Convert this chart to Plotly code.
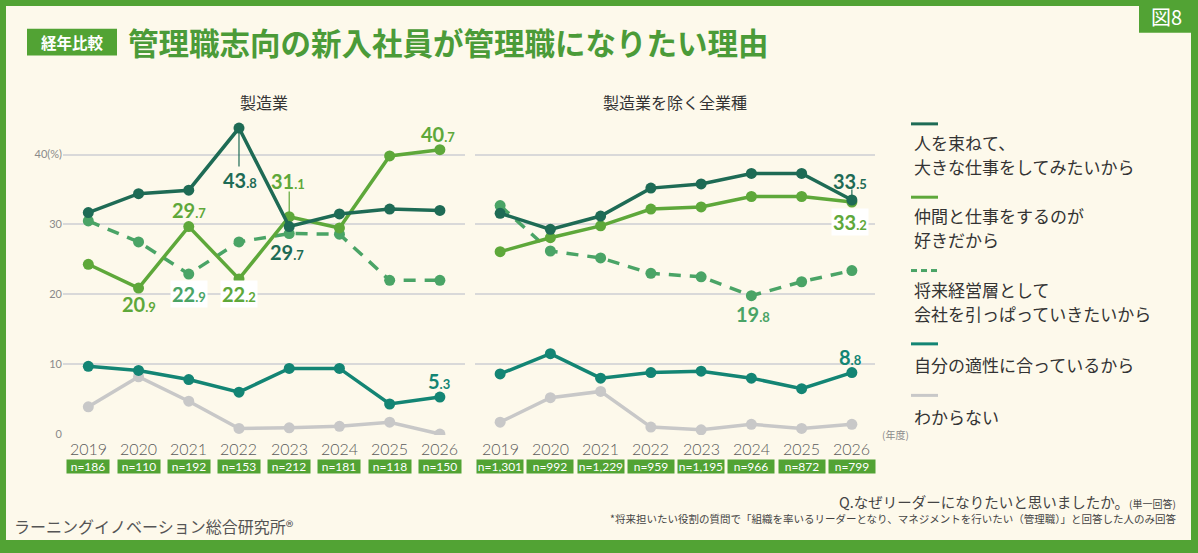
import plotly.graph_objects as go

W, H = 1198, 553
def px(x): return x / W
def py(y): return 1 - y / H

years = ["2019", "2020", "2021", "2022", "2023", "2024", "2025", "2026"]
n_mfg = ["n=186", "n=110", "n=192", "n=153", "n=212", "n=181", "n=118", "n=150"]
n_other = ["n=1,301", "n=992", "n=1,229", "n=959", "n=1,195", "n=966", "n=872", "n=799"]

series_names = [
    "人を束ねて、<br>大きな仕事をしてみたいから",
    "仲間と仕事をするのが<br>好きだから",
    "将来経営層として<br>会社を引っぱっていきたいから",
    "自分の適性に合っているから",
    "わからない",
]

# 製造業
mfg_lead = [31.7, 34.4, 34.9, 43.8, 29.7, 31.5, 32.2, 32.0]
mfg_colleague = [24.3, 20.9, 29.7, 22.2, 31.1, 29.5, 39.8, 40.7]
mfg_exec = [30.5, 27.5, 22.9, 27.5, 28.7, 28.6, 22.0, 22.0]
mfg_fit = [9.7, 9.1, 7.8, 6.0, 9.4, 9.4, 4.3, 5.3]
mfg_unknown = [3.9, 8.2, 4.7, 0.8, 0.9, 1.1, 1.7, 0.0]

# 製造業を除く全業種
oth_lead = [31.6, 29.3, 31.2, 35.2, 35.8, 37.3, 37.3, 33.5]
oth_colleague = [26.1, 28.1, 29.8, 32.2, 32.5, 34.0, 34.0, 33.2]
oth_exec = [32.7, 26.2, 25.2, 23.0, 22.5, 19.8, 21.8, 23.4]
oth_fit = [8.6, 11.5, 8.0, 8.8, 9.0, 8.0, 6.5, 8.8]
oth_unknown = [1.7, 5.2, 6.1, 1.0, 0.6, 1.4, 0.8, 1.4]

C_DARK = "#1E6B55"
C_GREEN = "#5EA83A"
C_DASH = "#4AA466"
C_TEAL = "#138574"
C_GRAY = "#C8C8C8"
C_BORDER = "#52A334"
C_TITLE = "#4B9B38"
CREAM = "#FDF9EB"

colors = [C_DARK, C_GREEN, C_DASH, C_TEAL, C_GRAY]
dashes = ["solid", "solid", "12px,9px", "solid", "solid"]

fig = go.Figure()
xs = list(range(len(years)))
panels = [
    ("x", "y", [mfg_lead, mfg_colleague, mfg_exec, mfg_fit, mfg_unknown]),
    ("x2", "y2", [oth_lead, oth_colleague, oth_exec, oth_fit, oth_unknown]),
]
draw_order = [4, 3, 2, 1, 0]
for xa, ya, data in panels:
    for k in draw_order:
        fig.add_trace(go.Scatter(
            x=xs, y=data[k], mode="lines+markers", xaxis=xa, yaxis=ya,
            line=dict(color=colors[k], width=3.5, dash=dashes[k]),
            marker=dict(color=colors[k], size=11),
            name=series_names[k], showlegend=False, hoverinfo="skip",
        ))

ydom = [py(439), py(122)]
yr = [-0.14, 44.82]
grid = "#D9D9D9"
fig.update_layout(
    width=W, height=H, margin=dict(l=0, r=0, t=0, b=0),
    paper_bgcolor=C_BORDER, plot_bgcolor="#FFFFFF",
    xaxis=dict(domain=[px(63), px(465)], range=[-0.504, 7.5], showgrid=False,
               showticklabels=False, zeroline=False, fixedrange=True),
    yaxis=dict(domain=ydom, range=yr, tickvals=[0, 10, 20, 30, 40],
               ticktext=["0", "10", "20", "30", "40(%)"], gridcolor=grid, gridwidth=1.5,
               zeroline=False, tickfont=dict(size=11, color="#8A8A8A", family="Lato"),
               fixedrange=True),
    xaxis2=dict(domain=[px(475), px(875)], range=[-0.5, 7.46], showgrid=False,
                showticklabels=False, zeroline=False, anchor="y2", fixedrange=True),
    yaxis2=dict(domain=ydom, range=yr, tickvals=[0, 10, 20, 30, 40], showticklabels=False,
                gridcolor=grid, gridwidth=1.5, zeroline=False, anchor="x2", fixedrange=True),
    font=dict(family="Noto Sans CJK JP"),
)

shapes = []
shapes.append(dict(type="rect", xref="paper", yref="paper", x0=px(6), x1=px(1191), y0=py(545), y1=py(6),
                   fillcolor=CREAM, line=dict(width=0), layer="below"))
shapes.append(dict(type="rect", xref="paper", yref="paper", x0=px(1139), x1=px(1198), y0=py(33), y1=py(0),
                   fillcolor=C_BORDER, line=dict(width=0), layer="below"))
shapes.append(dict(type="rect", xref="paper", yref="paper", x0=px(27), x1=px(117), y0=py(56), y1=py(29),
                   fillcolor=C_BORDER, line=dict(width=0), layer="below"))

ann = []
def pann(x, y, text, size, color, xanchor="center", family="Noto Sans CJK JP", **kw):
    d = dict(x=px(x), y=py(y), xref="paper", yref="paper", xanchor=xanchor, yanchor="middle",
             text=text, showarrow=False, font=dict(size=size, color=color, family=family))
    d.update(kw)
    ann.append(d)

pann(1166, 17, "図8", 20, "#FFFFFF")
pann(72, 42.5, "<b>経年比較</b>", 15.5, "#FFFFFF")
pann(126, 42, "<b>管理職志向の新入社員が管理職になりたい理由</b>", 30.5, C_TITLE, xanchor="left")
pann(264, 103, "製造業", 16, "#333333")
pann(675, 103, "製造業を除く全業種", 16, "#333333")

for xa, nlist, bw in [("x", n_mfg, 41), ("x2", n_other, 45)]:
    for i, (yv, nv) in enumerate(zip(years, nlist)):
        ann.append(dict(x=i, y=py(453), xref=xa, yref="paper", yanchor="middle", text=yv, showarrow=False,
                        font=dict(size=16, color="#5A5A5A", family="Lato", weight=300)))
        ann.append(dict(x=i, y=py(470.5), xref=xa, yref="paper", yanchor="middle", text=nv, showarrow=False,
                        bgcolor=C_BORDER, width=bw, height=12, borderpad=0.5,
                        font=dict(size=12, color="#FFFFFF", family="Lato")))

pann(880, 438, "(年度)", 10, "#8A8A8A", xanchor="left")

def lab(v):
    s = f"{v:.1f}"
    a, b = s.split(".")
    return f"<b>{a}<span style='font-size:13px'>.{b}</span></b>"

labels = [
    ("x", "y", 3, mfg_lead, C_DARK, 1, -52, None),
    ("x", "y", 2, mfg_colleague, C_GREEN, 0, 17, None),
    ("x", "y", 1, mfg_colleague, C_GREEN, 0, -16, None),
    ("x", "y", 2, mfg_exec, C_DASH, 0, -19.5, "#FFFFFF"),
    ("x", "y", 3, mfg_colleague, C_GREEN, 0, -15, "#FFFFFF"),
    ("x", "y", 4, mfg_colleague, C_GREEN, -1, 36, None),
    ("x", "y", 4, mfg_lead, C_DARK, -2, -25, None),
    ("x", "y", 7, mfg_colleague, C_GREEN, -2, 16, None),
    ("x", "y", 7, mfg_fit, C_TEAL, -1, 16, None),
    ("x2", "y2", 7, oth_lead, C_DARK, -2, 19, None),
    ("x2", "y2", 7, oth_colleague, C_GREEN, -2, -20, "#FFFFFF"),
    ("x2", "y2", 5, oth_exec, C_DASH, 2, -18, None),
    ("x2", "y2", 7, oth_fit, C_TEAL, -1, 16, None),
]
for xa, ya, i, arr, col, xs_, ys_, bg in labels:
    d = dict(x=i, y=arr[i], xref=xa, yref=ya, xanchor="center", yanchor="middle",
             text=lab(arr[i]), showarrow=False,
             xshift=xs_, yshift=ys_, font=dict(size=20, color=col, family="Lato"))
    if bg:
        d["bgcolor"] = bg
    ann.append(d)

shapes.append(dict(type="line", xref="x", yref="y", x0=3, x1=3, y0=mfg_lead[3], y1=38.3,
                   line=dict(color=C_DARK, width=1.2)))
shapes.append(dict(type="line", xref="x", yref="y", x0=4, x1=4, y0=mfg_colleague[4], y1=34.7,
                   line=dict(color=C_GREEN, width=1.2)))
shapes.append(dict(type="line", xref="x2", yref="y2", x0=7, x1=7, y0=oth_lead[7], y1=35.0,
                   line=dict(color=C_DARK, width=1.2)))

leg_y = [125, 199, 273, 347, 399]
leg_text = [
    [(144, "人を束ねて、"), (168, "大きな仕事をしてみたいから")],
    [(217, "仲間と仕事をするのが"), (242, "好きだから")],
    [(292, "将来経営層として"), (316, "会社を引っぱっていきたいから")],
    [(368, "自分の適性に合っているから")],
    [(420, "わからない")],
]
for k in range(5):
    if k == 2:
        for x0 in (911, 921, 931):
            shapes.append(dict(type="line", xref="paper", yref="paper", x0=px(x0), x1=px(x0 + 6),
                               y0=py(leg_y[k]), y1=py(leg_y[k]), line=dict(color=colors[k], width=3)))
    else:
        shapes.append(dict(type="line", xref="paper", yref="paper", x0=px(911), x1=px(938),
                           y0=py(leg_y[k]), y1=py(leg_y[k]), line=dict(color=colors[k], width=3)))
    for yy, t in leg_text[k]:
        pann(912, yy, t, 17, "#333333", xanchor="left")

pann(1178, 506, "Q.なぜリーダーになりたいと思いましたか。<span style='font-size:10px'>(単一回答)</span>",
     14.5, "#444444", xanchor="right")
pann(1178, 523, "*将来担いたい役割の質問で「組織を率いるリーダーとなり、マネジメントを行いたい（管理職）」と回答した人のみ回答",
     10.5, "#444444", xanchor="right")
pann(12, 531, "ラーニングイノベーション総合研究所®", 16, "#555555", xanchor="left")

fig.update_layout(shapes=shapes, annotations=ann)
fig.write_html("out.html")
